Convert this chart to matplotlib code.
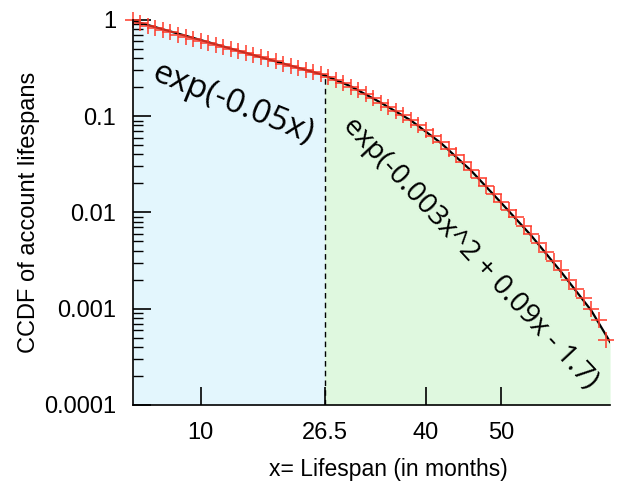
import numpy as np
import matplotlib.pyplot as plt

# measured CCDF of account lifespans (months 1..64)
months = list(range(1, 65))
ccdf = [1.0, 0.93, 0.875, 0.83, 0.785, 0.745, 0.705, 0.672, 0.64, 0.61,
        0.58, 0.55, 0.525, 0.498, 0.475, 0.452, 0.43, 0.41, 0.39, 0.37,
        0.352, 0.335, 0.318, 0.303, 0.288, 0.275, 0.258, 0.238, 0.22, 0.203,
        0.186, 0.17, 0.153, 0.138, 0.125, 0.113, 0.102, 0.091, 0.081, 0.0715,
        0.0625, 0.054, 0.046, 0.0392, 0.033, 0.0275, 0.0229, 0.0189, 0.0156, 0.0128,
        0.0107, 0.0089, 0.0073, 0.0059, 0.0048, 0.0039, 0.0031, 0.0025, 0.002, 0.0016,
        0.00128, 0.001, 0.00076, 0.00047]

# fitted curves
fit1_x = [1, 26.5]
fit1_y = [0.98, 0.266]
fit2_x = [26.5, 30, 34, 38, 42, 46, 50, 54, 58, 62, 64.5]
fit2_y = [0.266, 0.204, 0.138, 0.0902, 0.0525, 0.0272, 0.0126, 0.00575, 0.0024, 0.000955, 0.00045]

split = 26.5
xticks = [10, 26.5, 40, 50]
xticklabels = ["10", "26.5", "40", "50"]
yticks = [1e-4, 1e-3, 1e-2, 1e-1, 1]
yticklabels = ["0.0001", "0.001", "0.01", "0.1", "1"]

fig = plt.figure(figsize=(6.27, 4.86), dpi=100)
ax = fig.add_axes([0.212, 0.167, 0.761, 0.792])
ax.set_yscale("log")
ax.set_xlim(1, 64.5)
ax.set_ylim(1e-4, 1)

ax.fill_between(fit1_x, fit1_y, 1e-4, color="#e3f6fd", lw=0)
ax.fill_between(fit2_x, fit2_y, 1e-4, color="#dff8df", lw=0)
ax.plot([split, split], [1e-4, fit1_y[-1]], "k--", lw=1, dashes=(4, 3))
ax.plot(fit1_x, fit1_y, "k-", lw=1.6)
ax.plot(fit2_x, fit2_y, "k-", lw=1.6)
ax.plot(months, ccdf, "+", color="#ff3a2a", ms=11, mew=1.3, alpha=0.85, clip_on=False)

ax.text(14.3, 0.136, "exp(-0.05x)", rotation=-22, fontsize=24, family="Open Sans",
        ha="center", va="center", rotation_mode="anchor")
ax.text(45.9, 0.0038, "exp(-0.003x^2 + 0.09x - 1.7)", rotation=-47, fontsize=20.5,
        family="Open Sans", ha="center", va="center", rotation_mode="anchor")

for s in ["top", "right"]:
    ax.spines[s].set_visible(False)
ax.spines["left"].set_linewidth(1.2)
ax.spines["bottom"].set_linewidth(1.2)

ax.set_xticks(xticks)
ax.set_xticklabels(xticklabels, family="Liberation Sans", fontsize=17)
ax.set_yticks(yticks)
ax.set_yticklabels(yticklabels, family="Liberation Sans", fontsize=17)
ax.tick_params(axis="both", which="major", direction="in", length=13, width=1.2, pad=12)
ax.tick_params(axis="y", which="minor", direction="in", length=7, width=1.0)
ax.tick_params(axis="x", which="minor", bottom=False)

ax.set_xlabel("x= Lifespan (in months)", family="Liberation Sans", fontsize=16.5)
ax.set_ylabel("CCDF of account lifespans", family="Liberation Sans", fontsize=17)
ax.xaxis.set_label_coords((388 - 133) / 477, -53 / 385)
ax.yaxis.set_label_coords(-(133 - 40) / 477, 0.5)

fig.savefig("out.png", dpi=100)
